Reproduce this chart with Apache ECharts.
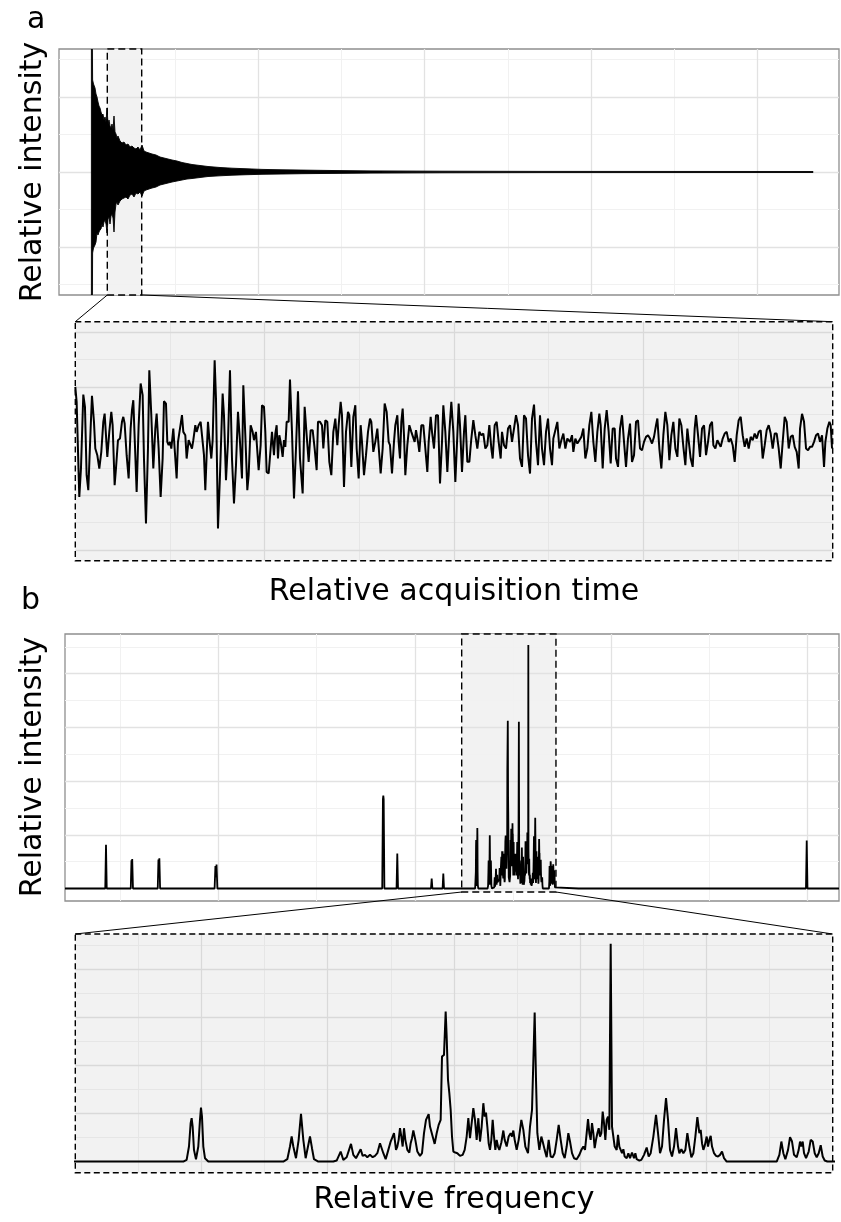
<!DOCTYPE html>
<html><head><meta charset="utf-8">
<script src="https://cdn.jsdelivr.net/npm/echarts@6/dist/echarts.min.js"></script>
<style>html,body{margin:0;padding:0;background:#fff}#c{width:841px;height:1222px}</style>
</head><body><div id="c"></div>
<script>
// ================= DATA =================
// Panel a (top): FID envelope, [time, intensity]
const fidUpper = [[-0.6,123],[0.4,123],[0.6,92],[1.5,88],[3,84],[4,78],[5,75],[6,70],[7,66],[8,64],[9,60],[10,57],[11,58],[12,52],[13,55],[14,50],[15,64],[16,48],[17,52],[18,46],[19,44],[20,48],[21,42],[22,56],[23,40],[24,38],[25,34],[26,36],[28,31],[30,29],[32,30],[34,27],[36,28],[38,25],[40,26],[42,24],[44,23],[46,25],[48,22],[50,27],[52,21],[54,20],[57,19],[60,18],[64,17],[68,15],[72,14],[76,13],[80,12],[85,11],[90,9.5],[95,8.5],[100,7.5],[108,6.5],[116,5.5],[128,4.5],[140,3.8],[155,3.2],[170,2.6],[190,2.2],[210,1.9],[240,1.5],[280,1.1],[350,0.8],[450,0.6],[721,0.5]];
const fidLower = [[-0.6,-123],[0.4,-123],[0.6,-81],[1.5,-76],[3,-73],[4,-70],[5,-61],[6,-63],[7,-60],[8,-58],[9,-57],[10,-52],[11,-55],[12,-50],[13,-48],[14,-52],[15,-61],[16,-47],[17,-45],[18,-52],[19,-44],[20,-42],[21,-46],[22,-60],[23,-40],[24,-32],[25,-30],[26,-33],[28,-29],[30,-27],[32,-26],[34,-25],[36,-27],[38,-23],[40,-22],[42,-25],[44,-21],[46,-22],[48,-20],[50,-24],[52,-19],[54,-18],[57,-17],[60,-16],[64,-15],[68,-13],[72,-12],[76,-11],[80,-10],[85,-9],[90,-8],[95,-7],[100,-6.5],[108,-5.5],[116,-4.5],[128,-3.8],[140,-3.2],[155,-2.7],[170,-2.3],[190,-2],[210,-1.7],[240,-1.4],[280,-1.1],[350,-0.8],[450,-0.6],[721,-0.5]];
const fidTimeRange = [-33, 747];
const fidIntRange = [-123, 123];
const fidWindow = [15.3, 49.7];
const fidTimeMajor = [0, 166.3, 332.6, 498.9, 665.3];
const fidTimeMinor = [83.2, 249.5, 415.8, 582.1];
const fidIntMajor = [-75, 0, 75];
const fidIntMinor = [-112.5, -37.5, 37.5, 112.5];

// Panel a (bottom): zoomed FID, [time, intensity]
const fidZoom = [[0,163],[4,118],[12,-167],[17,-82],[24,140],[29,103],[34,-102],[39,-147],[46,38],[50,136],[56,58],[60,-22],[66,-42],[72,-82],[78,-32],[84,58],[88,83],[92,18],[96,-47],[102,28],[108,88],[112,48],[118,-132],[122,-82],[128,3],[134,8],[140,58],[144,73],[148,53],[154,-42],[160,-112],[166,38],[170,93],[174,123],[180,-42],[184,-152],[190,48],[196,173],[202,138],[206,-52],[212,-247],[218,-22],[222,213],[228,78],[234,-82],[240,38],[244,83],[250,-22],[256,-167],[262,-52],[266,120],[272,113],[276,-2],[280,-12],[284,-2],[288,-22],[294,38],[298,-22],[304,-112],[308,-2],[314,38],[320,78],[324,28],[330,18],[334,-52],[340,3],[344,-2],[350,-22],[354,3],[360,48],[364,28],[370,48],[376,58],[380,18],[386,-42],[390,-147],[394,-42],[398,58],[402,8],[408,-52],[412,3],[418,243],[422,128],[428,-262],[434,-102],[442,143],[446,78],[452,-117],[458,-2],[464,213],[470,-52],[476,-187],[482,-72],[488,88],[494,-2],[500,-112],[504,168],[510,18],[516,-147],[520,-102],[526,48],[532,28],[536,3],[542,28],[550,-87],[556,-12],[560,108],[566,103],[570,28],[574,-92],[580,-97],[586,-22],[590,28],[596,-42],[600,23],[604,48],[608,-52],[612,18],[616,-2],[622,-47],[626,3],[630,-17],[634,58],[640,58],[644,185],[650,28],[656,-172],[662,-22],[668,150],[674,-52],[682,-157],[688,103],[694,18],[700,-62],[706,33],[712,33],[718,-22],[724,-87],[728,58],
[734,58],[740,48],[744,-22],[750,63],[756,58],[762,-62],[768,-102],[774,28],[780,68],[786,-12],[790,48],[796,118],[800,78],[806,-137],[812,28],[818,88],[822,78],[828,-77],[834,73],[840,108],[844,-22],[850,-112],[856,48],[860,-2],[866,-102],[872,-42],[878,28],[884,68],[888,58],[894,-32],[900,-2],[906,38],[910,33],[916,-97],[922,-22],[928,113],[934,88],[940,-2],[944,-12],[950,-97],[956,-2],[960,48],[966,78],[970,-2],[974,-52],[978,58],[982,98],[986,18],[990,-102],[996,-12],[1002,48],[1008,28],[1012,33],[1018,-2],[1022,33],[1028,-2],[1032,-32],[1038,48],[1044,48],[1050,-22],[1056,-92],[1060,-2],[1066,73],[1070,28],[1076,-22],[1082,78],[1088,78],[1094,-127],[1100,-2],[1104,108],[1110,28],[1116,-92],[1122,28],[1128,118],[1134,28],[1140,-122],[1146,18],[1150,113],[1154,48],[1160,-92],[1166,28],[1170,78],[1176,-62],[1182,-62],[1188,8],[1194,63],[1200,18],[1206,-22],[1212,28],[1218,18],[1224,23],[1230,-22],[1236,-12],[1242,48],[1248,-22],[1252,-52],[1258,48],[1264,58],[1270,-2],[1276,-52],[1280,28],[1286,-12],[1292,-22],[1298,38],[1304,48],[1310,-2],[1316,38],[1322,78],[1328,48],[1334,-52],[1340,-77],[1346,78],[1352,68],[1358,-42],[1364,-97],[1370,68],[1376,110],[1382,-2],[1388,-72],[1394,78],[1400,-22],[1406,-72],[1412,28],[1418,68],[1424,-22],[1430,-72],[1434,8],[1440,33],[1446,58],[1452,-22],[1458,3],[1464,23],[1470,-22],[1476,8],
[1484,-2],[1490,18],[1494,-32],[1500,8],[1506,-7],[1512,3],[1518,13],[1524,38],[1530,-52],[1536,-22],[1542,48],[1548,88],[1554,-2],[1560,-62],[1566,28],[1572,83],[1576,48],[1582,-82],[1588,38],[1594,93],[1600,28],[1606,-67],[1612,38],[1618,38],[1622,-52],[1628,-77],[1634,38],[1640,78],[1646,-2],[1652,-77],[1658,8],[1664,53],[1670,-62],[1676,-42],[1682,58],[1688,63],[1694,-22],[1700,-27],[1706,-2],[1712,13],[1718,18],[1724,8],[1730,-7],[1736,13],[1742,48],[1746,68],[1752,-22],[1758,-82],[1764,18],[1770,88],[1776,48],[1782,-57],[1788,18],[1794,58],[1800,-22],[1806,-47],[1812,68],[1818,48],[1824,-17],[1830,-72],[1836,38],[1840,38],[1846,-52],[1852,-77],[1858,38],[1862,78],[1868,18],[1874,-47],[1880,38],[1886,48],[1892,-42],[1898,-2],[1904,48],[1910,58],[1914,-12],[1920,-22],[1926,3],[1930,8],[1936,-17],[1942,8],[1948,23],[1954,28],[1960,-2],[1966,8],[1972,-12],[1978,-62],[1984,18],[1990,63],[1996,73],[2002,18],[2008,-17],[2014,8],[2020,-22],[2026,13],[2032,3],[2038,23],[2044,8],[2050,28],[2056,33],[2062,-52],[2068,-12],[2074,33],[2080,48],[2086,23],[2092,-22],[2098,23],[2104,23],[2110,-22],[2116,-82],[2122,-2],[2128,73],[2134,58],[2140,-22],[2146,13],[2152,18],[2158,-17],[2164,-32],[2170,-82],[2174,38],[2180,82],[2186,58],[2192,-22],[2198,-27],[2204,-17],[2210,-17],[2216,-2],[2222,18],[2228,23],[2234,-2],[2240,18],[2246,-77],[2250,-2],[2256,38],[2262,58],[2266,48],[2270,-22]];
const fidZoomTimeRange = [0, 2272];
const fidZoomIntRange = [-358.5, 358.5];
const fidZoomTimeMajor = [568, 1136, 1704];
const fidZoomTimeMinor = [284, 852, 1420, 1988];
const fidZoomIntMajor = [-326, -163, 0, 163, 326];
const fidZoomIntMinor = [-244.5, -81.5, 81.5, 244.5];

// Panel b: spectrum, [frequency, intensity]
const spectrum = [[-9560,0],
[-8590,0],[-8572,117],[-8554,0],
[-7975,0],[-7958,76],[-7950,40],[-7940,79],[-7922,0],
[-7325,0],[-7308,78],[-7298,40],[-7286,81],[-7268,0],
[-5955,0],[-5935,60],[-5922,30],[-5908,64],[-5888,0],
[-1915,0],[-1898,240],[-1889,249],[-1880,240],[-1863,0],
[-1570,0],[-1552,94],[-1534,0],
[-740,0],[-723,27],[-706,0],
[-460,0],[-443,40],[-426,0],
[0,0],[324,0],[334,5],[341,45],[346,115],[349,130],[352,105],[356,35],[362,7],[369,45],[374,125],[377,162],[380,135],[384,45],[389,10],[399,0],
[624,0],[636,7],[644,45],[649,75],[654,45],[662,10],[670,65],[677,143],[684,65],[691,10],[698,45],[704,75],[710,40],[716,7],[729,0],
[774,0],[784,3],[796,30],[804,5],[814,13],[827,53],[834,20],[842,10],[856,37],[862,17],[869,20],[876,13],[884,20],[892,13],[899,17],[906,25],[914,55],[919,53],[924,25],[931,7],[939,35],[946,60],[952,75],[956,85],[962,35],[966,45],[970,65],[974,100],[978,75],[982,45],[986,100],[990,65],[996,35],[1002,27],[1006,55],[1010,70],[1014,93],[1020,65],[1026,30],[1034,17],[1040,25],[1046,85],[1052,125],[1056,130],[1060,142],[1064,105],[1068,100],[1072,75],[1078,53],[1084,85],[1090,110],[1096,125],[1100,315],[1106,320],[1111,450],[1114,375],[1118,245],[1122,205],[1126,155],[1130,75],[1134,30],[1140,27],[1146,25],[1154,17],[1162,20],[1168,35],[1174,75],[1179,130],[1184,70],[1189,75],[1194,160],[1199,125],[1204,65],[1209,130],[1214,60],[1219,105],[1224,175],[1228,135],[1232,147],[1236,105],[1240,55],[1244,35],[1248,65],[1252,125],[1256,75],[1260,35],[1264,65],[1268,45],[1272,35],[1278,57],[1284,93],[1288,65],[1294,45],[1300,75],[1306,85],[1310,75],[1314,93],[1318,65],[1324,35],[1330,65],[1338,125],[1344,95],[1350,45],[1358,25],[1364,105],[1370,155],[1374,160],[1378,447],[1382,245],[1386,85],[1392,35],[1398,75],[1402,60],[1408,35],[1414,13],[1420,65],[1426,15],[1432,13],[1438,25],[1444,65],[1450,110],[1456,65],[1462,25],[1468,10],[1474,45],[1479,85],[1484,60],
[1490,25],[1496,10],[1504,7],[1512,20],[1518,35],[1524,45],[1529,35],[1534,85],[1538,127],[1542,85],[1546,65],[1550,115],[1554,85],[1558,40],[1562,65],[1566,85],[1570,100],[1574,75],[1578,85],[1582,150],[1586,115],[1590,65],[1594,125],[1598,135],[1602,95],[1606,653],[1610,105],[1614,100],[1618,45],[1624,35],[1628,80],[1632,45],[1636,35],[1640,25],[1644,37],[1648,15],[1654,10],[1659,25],[1664,10],[1670,27],[1676,10],[1680,25],[1684,7],[1692,3],[1698,5],[1706,20],[1714,42],[1720,15],[1726,25],[1734,75],[1742,140],[1748,85],[1754,25],[1760,45],[1766,125],[1772,190],[1778,125],[1784,35],[1790,15],[1796,45],[1802,100],[1808,45],[1812,25],[1818,37],[1824,25],[1830,35],[1836,85],[1842,45],[1848,13],[1854,25],[1860,75],[1866,133],[1872,85],[1876,95],[1880,55],[1884,35],[1888,47],[1894,75],[1898,45],[1902,65],[1906,77],[1910,45],[1916,25],[1922,17],[1928,15],[1934,20],[1940,30],[1946,10],[1954,0],
[2104,0],[2112,20],[2118,60],[2124,25],[2130,7],[2138,35],[2144,73],[2150,60],[2156,20],[2164,13],[2170,35],[2174,60],[2178,45],[2182,60],[2186,25],[2192,10],[2200,30],[2206,65],[2212,60],[2218,25],[2224,13],[2230,25],[2236,49],[2242,15],[2248,3],[2256,0],[2272,0],
[2815,0],[2834,5],[2853,0],
[4985,0],[5003,3],[5021,0],
[7130,0],[7148,4],[7166,0],
[8297,0],[8315,129],[8333,0],
[9093,0]];
const freqRange = [-9560, 9093];
const intRange = [-33.5, 682.6];
const freqWindow = [0, 2272];
const windowInt = [-9.4, 682.6];
const freqMajor = [-5866, -1125, 3598, 8328];
const freqMinor = [-8235, -3494, 1236, 5967];
const zoomFreqMajor = [379, 757, 1136, 1515, 1893];
const zoomFreqMinor = [189, 568, 947, 1325, 1704, 2083];
const intMajor = [0, 144, 288, 432, 576];
const intMinor = [72, 216, 360, 504, 648];

// ================= CHART =================
const chart = echarts.init(document.getElementById('c'), null, {renderer: 'canvas'});
const FONT = '"DejaVu Sans", sans-serif';

function gridLines(xMaj, xMin, yMaj, yMin, cMaj, cMin) {
  const d = [];
  xMin.forEach(v => d.push({xAxis: v, lineStyle: {color: cMin, width: 1, type: 'solid'}}));
  yMin.forEach(v => d.push({yAxis: v, lineStyle: {color: cMin, width: 1, type: 'solid'}}));
  xMaj.forEach(v => d.push({xAxis: v, lineStyle: {color: cMaj, width: 1.3, type: 'solid'}}));
  yMaj.forEach(v => d.push({yAxis: v, lineStyle: {color: cMaj, width: 1.3, type: 'solid'}}));
  return d;
}
function gridSeries(i, data) {
  return {type: 'line', xAxisIndex: i, yAxisIndex: i, data: [], z: 1, silent: true,
    markLine: {z: 2, silent: true, symbol: ['none', 'none'], label: {show: false}, animation: false, data: data}};
}
function shade(i, x0, x1, y0, y1) {
  return {type: 'line', xAxisIndex: i, yAxisIndex: i, data: [], z: 0, silent: true,
    markArea: {z: 1, silent: true, animation: false, itemStyle: {color: '#f2f2f2', borderWidth: 0},
      data: [[{xAxis: x0, yAxis: y0}, {xAxis: x1, yAxis: y1}]]}};
}
const ax = (i, r) => ({gridIndex: i, type: 'value', min: r[0], max: r[1], show: false});

const option = {
  animation: false,
  grid: [
    {left: 59, top: 49, width: 780, height: 246, show: true, borderColor: '#8f8f8f', borderWidth: 1.3, backgroundColor: '#fff'},
    {left: 75.3, top: 321.7, width: 757.4, height: 239, show: true, borderWidth: 0, backgroundColor: '#f2f2f2'},
    {left: 65, top: 634, width: 774, height: 267, show: true, borderColor: '#8f8f8f', borderWidth: 1.3, backgroundColor: '#fff'},
    {left: 75.3, top: 934, width: 757.4, height: 238.7, show: true, borderWidth: 0, backgroundColor: '#f2f2f2'}
  ],
  xAxis: [ax(0, fidTimeRange), ax(1, fidZoomTimeRange), ax(2, freqRange), ax(3, freqWindow)],
  yAxis: [ax(0, fidIntRange), ax(1, fidZoomIntRange), ax(2, intRange), ax(3, intRange)],
  series: [
    shade(0, fidWindow[0], fidWindow[1], fidIntRange[0], fidIntRange[1]),
    gridSeries(0, gridLines(fidTimeMajor, fidTimeMinor, fidIntMajor, fidIntMinor, '#e2e2e2', '#f1f1f1')),
    {type: 'custom', xAxisIndex: 0, yAxisIndex: 0, data: [[0, 0]], z: 3, clip: true, silent: true,
      renderItem: function (params, api) {
        const pts = fidUpper.map(p => api.coord(p)).concat(fidLower.slice().reverse().map(p => api.coord(p)));
        return {type: 'polygon', shape: {points: pts}, style: {fill: '#000', stroke: '#000', lineWidth: 0.9}};
      }},

    gridSeries(1, gridLines(fidZoomTimeMajor, fidZoomTimeMinor, fidZoomIntMajor, fidZoomIntMinor, '#d9d9d9', '#e6e6e6')),
    {type: 'line', xAxisIndex: 1, yAxisIndex: 1, data: fidZoom, symbol: 'none', z: 3, silent: true,
      lineStyle: {color: '#000', width: 2}},

    shade(2, freqWindow[0], freqWindow[1], windowInt[0], windowInt[1]),
    gridSeries(2, gridLines(freqMajor, freqMinor, intMajor, intMinor, '#e2e2e2', '#f1f1f1')),
    {type: 'line', xAxisIndex: 2, yAxisIndex: 2, data: spectrum, symbol: 'none', z: 3, silent: true,
      lineStyle: {color: '#000', width: 1.8}},

    gridSeries(3, gridLines(zoomFreqMajor, zoomFreqMinor, intMajor, intMinor, '#d9d9d9', '#e6e6e6')),
    {type: 'line', xAxisIndex: 3, yAxisIndex: 3, data: spectrum, symbol: 'none', z: 3, silent: true,
      lineStyle: {color: '#000', width: 2}}
  ]
};
chart.setOption(option);

// ---- annotations positioned from the axes ----
const P = (g, pt) => chart.convertToPixel({gridIndex: g}, pt);
function box(g, xr, yr, dash) {
  const a = P(g, [xr[0], yr[1]]), b = P(g, [xr[1], yr[0]]);
  return {type: 'rect', z: 100, shape: {x: a[0], y: a[1], width: b[0] - a[0], height: b[1] - a[1]},
    style: {fill: 'none', stroke: '#000', lineWidth: 1.4, lineDash: dash}};
}
function link(g1, p1, g2, p2) {
  const a = P(g1, p1), b = P(g2, p2);
  return {type: 'line', z: 100, shape: {x1: a[0], y1: a[1], x2: b[0], y2: b[1]},
    style: {stroke: '#000', lineWidth: 1}};
}
function label(text, x, y, rot, align) {
  return {type: 'text', z: 100, x: x, y: y, rotation: rot || 0,
    style: {text: text, font: '30px ' + FONT, fill: '#000',
      textAlign: align || 'center', textVerticalAlign: 'middle', align: align || 'center', verticalAlign: 'middle'}};
}
chart.setOption({graphic: [
  box(0, fidWindow, fidIntRange, [7, 4]),
  box(2, freqWindow, windowInt, [7, 4]),
  box(1, fidZoomTimeRange, fidZoomIntRange, [6, 3.5]),
  box(3, freqWindow, intRange, [6, 3.5]),
  link(0, [fidWindow[0], fidIntRange[0]], 1, [fidZoomTimeRange[0], fidZoomIntRange[1]]),
  link(0, [fidWindow[1], fidIntRange[0]], 1, [fidZoomTimeRange[1], fidZoomIntRange[1]]),
  link(2, [freqWindow[0], windowInt[0]], 3, [freqWindow[0], intRange[1]]),
  link(2, [freqWindow[1], windowInt[0]], 3, [freqWindow[1], intRange[1]]),
  label('Relative intensity', 33, 172, Math.PI / 2),
  label('Relative intensity', 33, 767, Math.PI / 2),
  label('Relative acquisition time', 454, 592),
  label('Relative frequency', 454, 1200),
  label('a', 27, 20, 0, 'left'),
  label('b', 21, 601, 0, 'left')
]});
</script>
</body></html>
